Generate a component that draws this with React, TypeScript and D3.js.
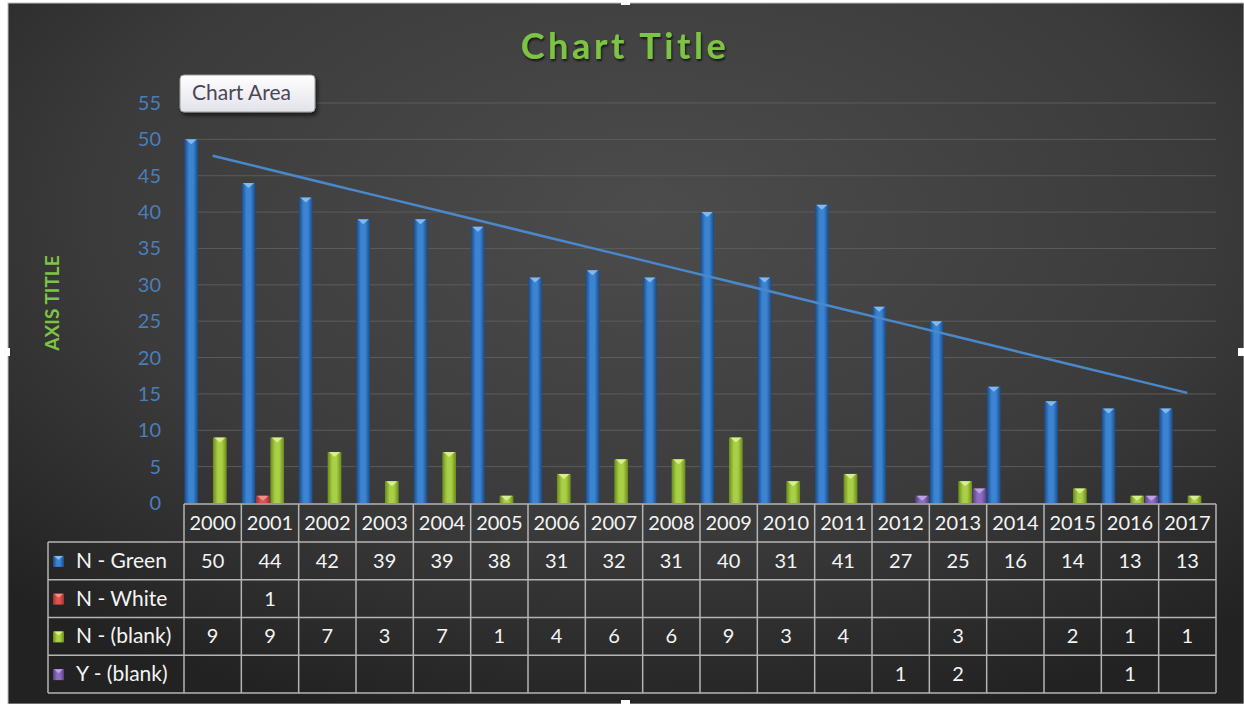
import React from 'react';
import * as d3 from 'd3';

const years = ['2000', '2001', '2002', '2003', '2004', '2005', '2006', '2007', '2008',
  '2009', '2010', '2011', '2012', '2013', '2014', '2015', '2016', '2017'];
const seriesNames = ['N - Green', 'N - White', 'N - (blank)', 'Y - (blank)'];
const nGreen = [50, 44, 42, 39, 39, 38, 31, 32, 31, 40, 31, 41, 27, 25, 16, 14, 13, 13];
const nWhite = [null, 1, null, null, null, null, null, null, null, null, null, null, null, null, null, null, null, null];
const nBlank = [9, 9, 7, 3, 7, 1, 4, 6, 6, 9, 3, 4, null, 3, null, 2, 1, 1];
const yBlank = [null, null, null, null, null, null, null, null, null, null, null, null, 1, 2, null, null, 1, null];
const yTicks = [0, 5, 10, 15, 20, 25, 30, 35, 40, 45, 50, 55];

const seriesValues: (number | null)[][] = [nGreen, nWhite, nBlank, yBlank];
const seriesStyles = [
  { id: 'blue', dark: '#1b4a86', mid: '#3b84d2', cap: '#8fc3f5' },
  { id: 'red', dark: '#9c3431', mid: '#e0524e', cap: '#f59a97' },
  { id: 'green', dark: '#6a8a1f', mid: '#a9d044', cap: '#e0f59a' },
  { id: 'purple', dark: '#573f80', mid: '#8d6cc2', cap: '#c2aeea' },
];

const W = 1244;
const H = 704;
const left = 184;
const right = 1216;
const top = 103;
const bottom = 503;
const headerTop = 504;
const tableTop = 542;
const tableBottom = 693;
const legendLeft = 48;
const font = 'Lato, "Open Sans", sans-serif';
const titleGreen = '#7dc443';

export default function App() {
  const x = d3.scaleBand<string>().domain(years).range([left, right]).padding(0);
  const inner = d3.scaleBand<string>().domain(seriesNames).range([0, x.bandwidth()]).padding(0);
  const y = d3.scaleLinear().domain([0, 55]).range([bottom, top]);
  const row = d3.scaleBand<string>().domain(seriesNames).range([tableTop, tableBottom]);

  // linear trendline on N - Green
  const idx = nGreen.map((_, i) => i);
  const mx = d3.mean(idx) as number;
  const my = d3.mean(nGreen) as number;
  const slope = d3.sum(idx, i => (i - mx) * (nGreen[i] - my)) / d3.sum(idx, i => (i - mx) ** 2);
  const icpt = my - slope * mx;
  const trend = d3.line<number>()
    .x(i => (x(years[i]) as number) + x.bandwidth() / 2)
    .y(i => y(icpt + slope * i));

  const bw = inner.bandwidth();

  return (
    <svg width={W} height={H} style={{ position: 'absolute', left: 0, top: 0, display: 'block' }}>
      <defs>
        <radialGradient id="bg" cx="52%" cy="30%" r="75%">
          <stop offset="0%" stopColor="#4c4c4c" />
          <stop offset="60%" stopColor="#3b3b3b" />
          <stop offset="100%" stopColor="#222222" />
        </radialGradient>
        {seriesStyles.map(s => (
          <linearGradient key={s.id} id={`g-${s.id}`} x1="0" x2="1" y1="0" y2="0">
            <stop offset="0%" stopColor={s.dark} />
            <stop offset="35%" stopColor={s.mid} />
            <stop offset="65%" stopColor={s.mid} />
            <stop offset="100%" stopColor={s.dark} />
          </linearGradient>
        ))}
        <linearGradient id="tip" x1="0" x2="0" y1="0" y2="1">
          <stop offset="0%" stopColor="#ffffff" />
          <stop offset="100%" stopColor="#e2e2ea" />
        </linearGradient>
        <filter id="shadow" x="-10%" y="-20%" width="130%" height="160%">
          <feDropShadow dx="2" dy="3" stdDeviation="2" floodColor="#000" floodOpacity="0.6" />
        </filter>
        <filter id="tshadow" x="-10%" y="-20%" width="130%" height="160%">
          <feDropShadow dx="1" dy="2" stdDeviation="1.2" floodColor="#000" floodOpacity="0.7" />
        </filter>
      </defs>

      <rect x={0} y={0} width={W} height={H} fill="#ffffff" />
      <rect x={8} y={3} width={W - 8} height={H - 3} fill="url(#bg)" stroke="#bdbdbd" strokeWidth={1} />

      <text x={625} y={59} textAnchor="middle" fontFamily={font} fontWeight="bold" fontSize={36}
        letterSpacing={3.6} fill={titleGreen} filter="url(#tshadow)">Chart Title</text>

      <text transform={`translate(59,303) rotate(-90)`} textAnchor="middle" fontFamily={font}
        fontWeight="bold" fontSize={19} fill={titleGreen}>AXIS TITLE</text>

      {yTicks.filter(t => t > 0).map(t => (
        <line key={t} x1={left} x2={right} y1={y(t)} y2={y(t)} stroke="#5c5c5c" strokeWidth={1} />
      ))}
      {yTicks.map(t => (
        <text key={t} x={161} y={y(t) + 7} textAnchor="end" fontFamily={font} fontSize={20}
          fill="#4a7ebb">{t}</text>
      ))}

      {seriesValues.map((vals, si) => (
        <g key={si}>
          {vals.map((v, i) => {
            if (v == null) return null;
            const bx = (x(years[i]) as number) + (inner(seriesNames[si]) as number);
            const by = y(v);
            const s = seriesStyles[si];
            return (
              <g key={i}>
                <rect x={bx + 0.3} y={by} width={bw - 0.6} height={bottom - by} fill={`url(#g-${s.id})`} />
                <polygon points={`${bx + 1.5},${by} ${bx + bw - 1.5},${by} ${bx + bw / 2},${by + 5}`}
                  fill={s.cap} opacity={0.85} />
              </g>
            );
          })}
        </g>
      ))}

      <path d={trend(idx) as string} fill="none" stroke="#4a88cc" strokeWidth={2.5} />

      {/* data table */}
      <g stroke="#b4b4b4" strokeWidth={1.5} fill="none">
        <line x1={left} x2={right} y1={headerTop} y2={headerTop} />
        <line x1={legendLeft} x2={right} y1={tableTop} y2={tableTop} />
        {seriesNames.map(n => (
          <line key={n} x1={legendLeft} x2={right} y1={(row(n) as number) + row.bandwidth()}
            y2={(row(n) as number) + row.bandwidth()} />
        ))}
        <line x1={legendLeft} x2={legendLeft} y1={tableTop} y2={tableBottom} />
        {years.map(yr => (
          <line key={yr} x1={x(yr) as number} x2={x(yr) as number} y1={headerTop} y2={tableBottom} />
        ))}
        <line x1={right} x2={right} y1={headerTop} y2={tableBottom} />
      </g>

      {years.map(yr => (
        <text key={yr} x={(x(yr) as number) + x.bandwidth() / 2} y={headerTop + 26} textAnchor="middle"
          fontFamily={font} fontSize={20} fill="#f4f4f4">{yr}</text>
      ))}

      {seriesNames.map((n, si) => {
        const ry = row(n) as number;
        const cy = ry + row.bandwidth() / 2;
        const s = seriesStyles[si];
        return (
          <g key={n}>
            <rect x={53} y={cy - 5} width={11} height={11} fill={`url(#g-${s.id})`} />
            <polygon points={`${54},${cy - 5} ${63},${cy - 5} ${58.5},${cy - 1}`} fill={s.cap} opacity={0.85} />
            <text x={76} y={cy + 7} fontFamily={font} fontSize={21} fill="#f4f4f4">{n}</text>
            {seriesValues[si].map((v, i) => v == null ? null : (
              <text key={i} x={(x(years[i]) as number) + x.bandwidth() / 2} y={cy + 7} textAnchor="middle"
                fontFamily={font} fontSize={20} fill="#f4f4f4">{v}</text>
            ))}
          </g>
        );
      })}

      {/* "Chart Area" hover tip */}
      <rect x={180} y={75} width={135} height={37} rx={4} fill="url(#tip)" stroke="#9a9a9a"
        strokeWidth={1} filter="url(#shadow)" />
      <text x={192} y={100} fontFamily={font} fontSize={21} fill="#4a4658">Chart Area</text>

      {/* selection handles */}
      <rect x={621} y={0} width={9} height={5} fill="#ffffff" />
      <rect x={3} y={348} width={7} height={8} fill="#ffffff" />
      <rect x={1238} y={348} width={6} height={8} fill="#ffffff" />
      <rect x={621} y={700} width={9} height={4} fill="#ffffff" />
    </svg>
  );
}
